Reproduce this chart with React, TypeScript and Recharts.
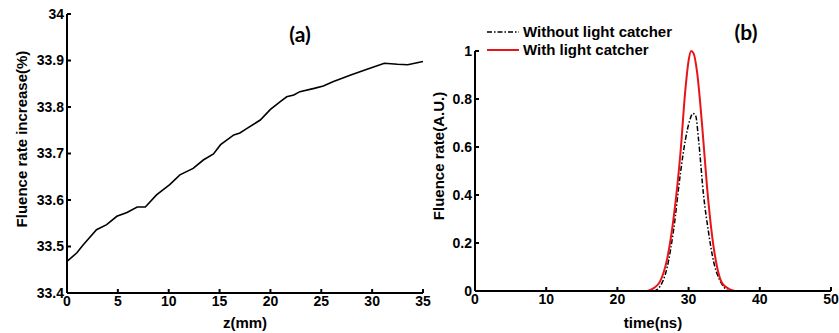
import React from "react";
import {
  LineChart,
  Line,
  XAxis,
  YAxis,
  Legend,
  Label,
} from "recharts";

// (a) fluence rate increase vs depth
const depthMm = [
  0, 0.95, 1.6, 2.9, 3.9, 4.9, 5.9, 6.9, 7.7, 8.8, 10.1, 11.1, 12.4, 13.4,
  14.4, 15.1, 16.4, 17.0, 17.7, 19.0, 20.0, 21.0, 21.6, 22.3, 22.9, 24.3,
  25.2, 26.2, 27.9, 29.5, 31.2, 32.5, 33.5, 35,
];
const increasePct = [
  33.468, 33.486, 33.504, 33.536, 33.547, 33.565, 33.573, 33.585, 33.585,
  33.611, 33.633, 33.654, 33.668, 33.686, 33.699, 33.719, 33.74, 33.744,
  33.754, 33.772, 33.795, 33.812, 33.822, 33.826, 33.833, 33.84, 33.845,
  33.855, 33.869, 33.881, 33.894, 33.892, 33.891, 33.898,
];

// (b) fluence rate vs time
const timeWithout = [
  0, 10, 20, 25.1, 26.0, 27.0, 27.9, 28.85, 29.55, 30.15, 30.6, 31.0, 31.4,
  32.1, 32.8, 33.5, 34.3, 35.0, 35.7, 40, 50,
];
const rateWithout = [
  0, 0, 0, 0, 0.02, 0.1, 0.257, 0.49, 0.63, 0.71, 0.74, 0.73, 0.63, 0.4,
  0.245, 0.124, 0.05, 0.015, 0, 0, 0,
];
const timeWith = [
  0, 10, 20, 24.15, 25.1, 26.0, 27.0, 27.9, 28.85, 29.55, 30.0, 30.35, 30.7,
  31.2, 31.9, 32.6, 33.3, 34.0, 34.7, 35.7, 36.6, 40, 50,
];
const rateWith = [
  0, 0, 0, 0, 0.012, 0.04, 0.136, 0.306, 0.573, 0.84, 0.96, 1.0, 0.99, 0.91,
  0.69, 0.43, 0.23, 0.1, 0.033, 0.008, 0, 0, 0,
];

const xTicksA = [0, 5, 10, 15, 20, 25, 30, 35];
const yTicksA = [33.4, 33.5, 33.6, 33.7, 33.8, 33.9, 34];
const xTicksB = [0, 10, 20, 30, 40, 50];
const yTicksB = [0, 0.2, 0.4, 0.6, 0.8, 1];

const seriesNames = ["Without light catcher", "With light catcher"];

const dataA = depthMm.map((z, i) => ({ z, v: increasePct[i] }));
const dataWithout = timeWithout.map((t, i) => ({ t, v: rateWithout[i] }));
const dataWith = timeWith.map((t, i) => ({ t, v: rateWith[i] }));

const font = "'Liberation Sans', Arial, sans-serif";
const tickStyle = { fontSize: 14, fontWeight: 700, fill: "#000", fontFamily: font };
const axisStroke = { stroke: "#000", strokeWidth: 2 };
const fmt = (v: number) => String(Number(v.toFixed(1)));

const yTitle = (text: string, x: number, y: number) => () =>
  (
    <text
      x={x}
      y={y}
      transform={`rotate(-90 ${x} ${y})`}
      textAnchor="middle"
      dominantBaseline="central"
      style={{ fontSize: 15, fontWeight: 700, fill: "#000", fontFamily: font }}
    >
      {text}
    </text>
  );

const LegendBox = () => (
  <div style={{ fontFamily: font, fontSize: 15, fontWeight: 700, color: "#000" }}>
    {seriesNames.map((name, i) => (
      <div key={name} style={{ display: "flex", alignItems: "center", height: 18 }}>
        <svg width={34} height={18}>
          <line
            x1={0}
            x2={32}
            y1={9}
            y2={9}
            stroke={i === 0 ? "#000" : "#e8141b"}
            strokeWidth={i === 0 ? 1.5 : 2}
            strokeDasharray={i === 0 ? "5 2 1.5 2" : undefined}
          />
        </svg>
        <span style={{ marginLeft: 2, lineHeight: "18px" }}>{name}</span>
      </div>
    ))}
  </div>
);

const App = () => {
  return (
    <div style={{ position: "absolute", left: 0, top: 0, width: 839, height: 333, background: "#fff" }}>
      {/* (a) */}
      <div style={{ position: "absolute", left: 0, top: 0 }}>
        <LineChart
          width={440}
          height={333}
          data={dataA}
          margin={{ top: 14, right: 17, bottom: 0, left: 17 }}
        >
          <XAxis
            dataKey="z"
            type="number"
            domain={[0, 35]}
            ticks={xTicksA}
            interval={0}
            height={40}
            tick={tickStyle}
            tickSize={-4}
            tickMargin={7}
            axisLine={axisStroke}
            tickLine={axisStroke}
          >
            <Label
              value="z(mm)"
              position="insideBottom"
              offset={5}
              style={{ fontSize: 15, fontWeight: 700, fill: "#000", fontFamily: font }}
            />
          </XAxis>
          <YAxis
            type="number"
            domain={[33.4, 34]}
            ticks={yTicksA}
            interval={0}
            width={50}
            tick={tickStyle}
            tickFormatter={fmt}
            tickSize={-4}
            tickMargin={7}
            axisLine={axisStroke}
            tickLine={axisStroke}
          >
            <Label content={yTitle("Fluence rate increase(%)", 21, 139)} />
          </YAxis>
          <Line
            dataKey="v"
            type="linear"
            stroke="#000"
            strokeWidth={1.6}
            dot={false}
            isAnimationActive={false}
          />
        </LineChart>
        <div
          style={{
            position: "absolute",
            left: 300,
            top: 33,
            transform: "translate(-50%, -50%)",
            fontFamily: "Lato, 'Open Sans', sans-serif",
            fontWeight: 700,
            fontSize: 21,
            color: "#000",
          }}
        >
          (a)
        </div>
      </div>

      {/* (b) */}
      <div style={{ position: "absolute", left: 420, top: 0 }}>
        <LineChart
          width={419}
          height={333}
          margin={{ top: 15, right: 8, bottom: 0, left: 5 }}
        >
          <XAxis
            dataKey="t"
            type="number"
            domain={[0, 50]}
            ticks={xTicksB}
            interval={0}
            height={42}
            tick={tickStyle}
            tickSize={-4}
            tickMargin={7}
            axisLine={axisStroke}
            tickLine={axisStroke}
          >
            <Label
              value="time(ns)"
              position="insideBottom"
              offset={5}
              style={{ fontSize: 15, fontWeight: 700, fill: "#000", fontFamily: font }}
            />
          </XAxis>
          <YAxis
            type="number"
            domain={[0, 1]}
            ticks={yTicksB}
            interval={0}
            width={50}
            tick={tickStyle}
            tickFormatter={fmt}
            tickSize={-4}
            tickMargin={7}
            axisLine={axisStroke}
            tickLine={axisStroke}
          >
            <Label content={yTitle("Fluence rate(A.U.)", 18, 156)} />
          </YAxis>
          <Legend
            verticalAlign="top"
            align="left"
            content={<LegendBox />}
            wrapperStyle={{ position: "absolute", left: 67, top: 23, width: 200 }}
          />
          <Line
            data={dataWithout}
            dataKey="v"
            name={seriesNames[0]}
            type="monotone"
            stroke="#000"
            strokeWidth={1.5}
            strokeDasharray="5 2 1.5 2"
            dot={false}
            isAnimationActive={false}
          />
          <Line
            data={dataWith}
            dataKey="v"
            name={seriesNames[1]}
            type="monotone"
            stroke="#e8141b"
            strokeWidth={2}
            dot={false}
            isAnimationActive={false}
          />
        </LineChart>
        <div
          style={{
            position: "absolute",
            left: 326,
            top: 31,
            transform: "translate(-50%, -50%)",
            fontFamily: "Lato, 'Open Sans', sans-serif",
            fontWeight: 700,
            fontSize: 21,
            color: "#000",
          }}
        >
          (b)
        </div>
      </div>
    </div>
  );
};

export default App;
